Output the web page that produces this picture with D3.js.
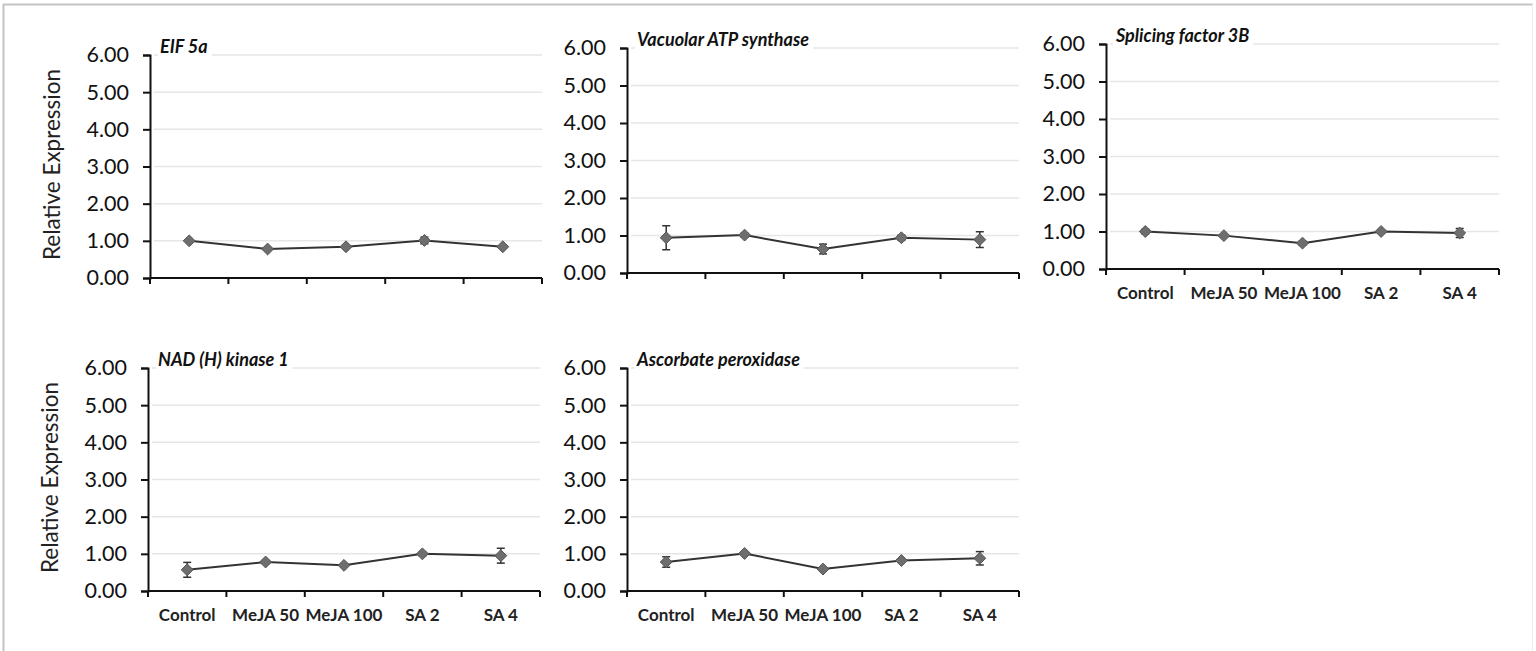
<!DOCTYPE html>
<html>
<head>
<meta charset="utf-8">
<script src="https://cdn.jsdelivr.net/npm/d3@7"></script>
<style>
  body { margin: 0; background: #fff; }
  svg { display: block; }
</style>
</head>
<body>
<script>
var w = 1536, h = 651;

var categories = ['Control', 'MeJA 50', 'MeJA 100', 'SA 2', 'SA 4'];
var yTicks = [0, 1, 2, 3, 4, 5, 6];

var eifVals = [1.00, 0.78, 0.84, 1.01, 0.84];
var eifErr = [0.03, 0.03, 0.03, 0.09, 0.03];
var vacVals = [0.94, 1.01, 0.64, 0.94, 0.89];
var vacErr = [0.32, 0.05, 0.13, 0.07, 0.21];
var splVals = [1.00, 0.89, 0.69, 1.00, 0.96];
var splErr = [0.06, 0.03, 0.05, 0.04, 0.12];
var nadVals = [0.57, 0.78, 0.69, 1.00, 0.95];
var nadErr = [0.20, 0.04, 0.03, 0.05, 0.20];
var ascVals = [0.78, 1.01, 0.59, 0.82, 0.88];
var ascErr = [0.14, 0.04, 0.03, 0.05, 0.18];

// panel layout: axis box in pixels
var panels = [
  { title: 'EIF 5a', vals: eifVals, err: eifErr, x0: 150, x1: 542, y0: 55, y1: 278, ylabel: true, xlabels: false },
  { title: 'Vacuolar ATP synthase', vals: vacVals, err: vacErr, x0: 627, x1: 1019, y0: 48, y1: 273, ylabel: false, xlabels: false },
  { title: 'Splicing factor 3B', vals: splVals, err: splErr, x0: 1106, x1: 1499, y0: 44, y1: 269, ylabel: false, xlabels: true },
  { title: 'NAD (H) kinase 1', vals: nadVals, err: nadErr, x0: 148, x1: 540, y0: 368, y1: 591, ylabel: true, xlabels: true },
  { title: 'Ascorbate peroxidase', vals: ascVals, err: ascErr, x0: 627, x1: 1019, y0: 368, y1: 591, ylabel: false, xlabels: true }
];

var svg = d3.select('body').append('svg')
  .attr('width', w)
  .attr('height', h);

svg.append('rect').attr('width', w).attr('height', h).attr('fill', '#fff');

// outer frame
svg.append('line').attr('x1', 3).attr('x2', w - 3).attr('y1', 4.5).attr('y2', 4.5)
  .attr('stroke', '#c4c4c4').attr('stroke-width', 2);
svg.append('line').attr('x1', 3.5).attr('x2', 3.5).attr('y1', 4).attr('y2', h)
  .attr('stroke', '#c4c4c4').attr('stroke-width', 2);
svg.append('line').attr('x1', w - 3.5).attr('x2', w - 3.5).attr('y1', 4).attr('y2', h)
  .attr('stroke', '#ececec').attr('stroke-width', 1);

var font = 'Lato, "Open Sans", sans-serif';

panels.forEach(function (p) {
  var g = svg.append('g');

  var x = d3.scaleBand().domain(categories).range([p.x0, p.x1]);
  var y = d3.scaleLinear().domain([0, 6]).range([p.y1, p.y0]);

  // gridlines
  g.selectAll('line.grid')
    .data(yTicks.slice(1))
    .enter()
    .append('line')
    .attr('class', 'grid')
    .attr('x1', p.x0 + 4)
    .attr('x2', p.x1)
    .attr('y1', function (d) { return y(d); })
    .attr('y2', function (d) { return y(d); })
    .attr('stroke', '#e6e6e6')
    .attr('stroke-width', 1.5);

  // y axis
  var yAxis = d3.axisLeft(y)
    .tickValues(yTicks)
    .tickFormat(d3.format('.2f'))
    .tickSize(7)
    .tickPadding(14);
  var ya = g.append('g').attr('transform', 'translate(' + p.x0 + ',0)').call(yAxis);
  ya.select('.domain').attr('stroke', '#111').attr('stroke-width', 2);
  ya.selectAll('.tick line').attr('stroke', '#111').attr('stroke-width', 2);
  ya.selectAll('text')
    .style('font-family', font)
    .style('font-size', '21.5px')
    .attr('fill', '#111');

  // x axis baseline + ticks at band edges
  var xa = g.append('g').attr('transform', 'translate(0,' + p.y1 + ')');
  xa.append('line').attr('x1', p.x0).attr('x2', p.x1).attr('y1', 0).attr('y2', 0)
    .attr('stroke', '#111').attr('stroke-width', 2);
  var edges = categories.map(function (c) { return x(c); }).concat([p.x1]);
  xa.selectAll('line.xt')
    .data(edges)
    .enter()
    .append('line')
    .attr('class', 'xt')
    .attr('x1', function (d) { return d; })
    .attr('x2', function (d) { return d; })
    .attr('y1', 0)
    .attr('y2', 6)
    .attr('stroke', '#111')
    .attr('stroke-width', 2);

  if (p.xlabels) {
    xa.selectAll('text')
      .data(categories)
      .enter()
      .append('text')
      .attr('x', function (d) { return x(d) + x.bandwidth() / 2; })
      .attr('y', 30)
      .attr('text-anchor', 'middle')
      .style('font-family', font)
      .style('font-size', '17px')
      .style('font-weight', 'bold')
      .attr('fill', '#222')
      .text(function (d) { return d; });
  }

  // title with white backing over the top gridline
  var t = g.append('text')
    .attr('x', p.x0 + 10)
    .attr('y', p.y0 - 2)
    .style('font-family', font)
    .style('font-size', '18px')
    .style('font-weight', 'bold')
    .style('font-style', 'italic')
    .attr('fill', '#111')
    .text(p.title);
  var bb = t.node().getBBox();
  g.insert('rect', function () { return t.node(); })
    .attr('x', bb.x - 2).attr('y', bb.y).attr('width', bb.width + 6).attr('height', bb.height)
    .attr('fill', '#fff');

  if (p.ylabel) {
    g.append('text')
      .attr('transform', 'translate(' + (p.x0 - 90) + ',' + ((p.y0 + p.y1) / 2 - 2) + ') rotate(-90)')
      .attr('text-anchor', 'middle')
      .style('font-family', font)
      .style('font-size', '22.5px')
      .attr('fill', '#222')
      .text('Relative Expression');
  }

  var pts = categories.map(function (c, i) {
    return { cx: x(c) + x.bandwidth() / 2, v: p.vals[i], e: p.err[i] };
  });

  // line
  var line = d3.line().x(function (d) { return d.cx; }).y(function (d) { return y(d.v); });
  g.append('path')
    .datum(pts)
    .attr('d', line)
    .attr('fill', 'none')
    .attr('stroke', '#333')
    .attr('stroke-width', 2);

  // error bars
  var eb = g.selectAll('g.err').data(pts).enter().append('g').attr('class', 'err');
  eb.append('line')
    .attr('x1', function (d) { return d.cx; })
    .attr('x2', function (d) { return d.cx; })
    .attr('y1', function (d) { return y(d.v - d.e); })
    .attr('y2', function (d) { return y(d.v + d.e); })
    .attr('stroke', '#333').attr('stroke-width', 1.5);
  [-1, 1].forEach(function (s) {
    eb.append('line')
      .attr('x1', function (d) { return d.cx - 4; })
      .attr('x2', function (d) { return d.cx + 4; })
      .attr('y1', function (d) { return y(d.v + s * d.e); })
      .attr('y2', function (d) { return y(d.v + s * d.e); })
      .attr('stroke', '#333').attr('stroke-width', 1.5);
  });

  // diamond markers
  g.selectAll('path.mk')
    .data(pts)
    .enter()
    .append('path')
    .attr('class', 'mk')
    .attr('d', d3.symbol().type(d3.symbolDiamond2).size(90))
    .attr('transform', function (d) { return 'translate(' + d.cx + ',' + y(d.v) + ')'; })
    .attr('fill', '#6e6e6e')
    .attr('stroke', '#555')
    .attr('stroke-width', 1);
});
</script>
</body>
</html>
